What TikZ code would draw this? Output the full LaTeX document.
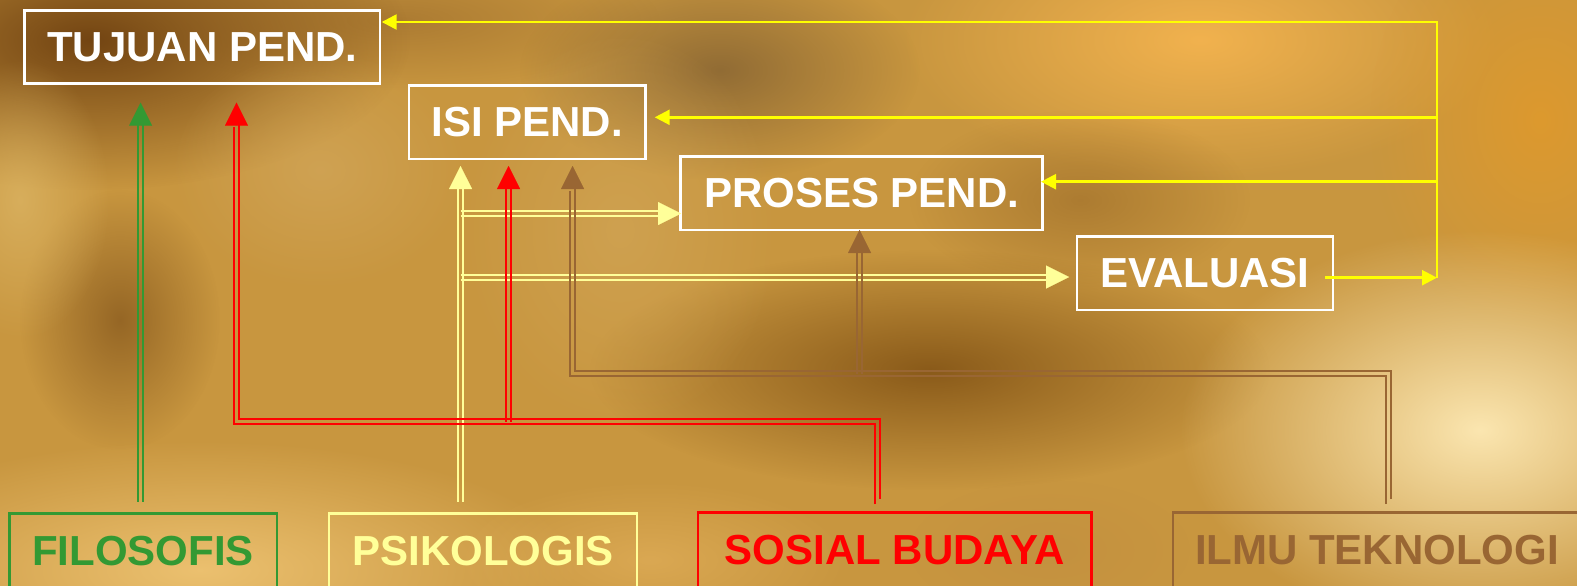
\documentclass[tikz,border=0pt]{standalone}
\usepackage{fontspec}
\setmainfont{Liberation Sans}
\usetikzlibrary{arrows.meta,fadings,calc}
\tikzfading[name=blob, inner color=transparent!0, outer color=transparent!100]
\definecolor{cgreen}{HTML}{339933}
\definecolor{cly}{HTML}{FFFF99}
\definecolor{cred}{HTML}{FF0000}
\definecolor{cbrown}{HTML}{996633}
\definecolor{cyel}{HTML}{FFFF00}
\definecolor{bgbase}{HTML}{C8963F}
\newcommand\myblob[5]{\definecolor{blobc}{HTML}{#4}\fill[color=blobc, opacity=#5, path fading=blob] (#1) ellipse [x radius=#2, y radius=#3];}
% double line: #1 style, #2 path, #3 canvas shift x, #4 canvas shift y
\newcommand\dblgen[4]{%
  \begin{scope}[transform canvas={shift={(#3,#4)}}]\draw[#1] #2;\end{scope}%
  \begin{scope}[transform canvas={shift={(-#3,-#4)}}]\draw[#1] #2;\end{scope}}
\newcommand\dblpath[2]{\dblgen{#1}{#2}{2.5pt}{2.5pt}}
\newcommand\dblv[2]{\dblgen{#1}{#2}{2.5pt}{0pt}}
\newcommand\dblh[2]{\dblgen{#1}{#2}{0pt}{2.5pt}}
\newcommand\dtip[3]{\draw[#1, line width=0.01pt, -{Triangle[width=23pt,length=23pt]}] (#2) -- (#3);}
\begin{document}
\begin{tikzpicture}[x=1pt,y=-1pt,
  lbl/.style={font=\fontsize{42}{48}\selectfont\bfseries, inner sep=0pt, line width=2.5pt},
  topbox/.style={lbl, draw=white, text=white, minimum height=73.3pt},
  botbox/.style={lbl, draw=#1, text=#1, minimum height=75pt},
  dl/.style={draw=#1, line width=2pt},
  yline/.style={draw=cyel, line width=2.5pt},
  yarr/.style={yline, -{Triangle[width=15pt,length=15pt]}}]
\useasboundingbox (0,0) rectangle (1577,586);
% background
\begin{scope}
\clip (0,0) rectangle (1577,586);
\fill[bgbase] (0,0) rectangle (1577,586);
\myblob{400,20}{260}{70}{9A6A2A}{0.6}
\myblob{90,40}{320}{150}{6E4010}{0.95}
\myblob{720,70}{200}{110}{7A5A30}{0.7}
\myblob{1200,40}{300}{140}{F6B550}{0.9}
\myblob{1540,120}{170}{220}{E29A2A}{0.8}
\myblob{1080,200}{170}{90}{9A6A28}{0.6}
\myblob{930,370}{340}{120}{7F5013}{0.85}
\myblob{120,320}{100}{130}{80521A}{0.7}
\myblob{20,200}{90}{140}{DEB868}{0.7}
\myblob{320,170}{150}{120}{D4AA60}{0.6}
\myblob{620,230}{160}{200}{D4AA5E}{0.55}
\myblob{1480,430}{300}{200}{FBE6B0}{1}
\myblob{200,570}{380}{130}{F2C878}{0.85}
\myblob{650,560}{200}{80}{E6B460}{0.6}
\myblob{1050,550}{140}{70}{C08C40}{0.5}
\end{scope}
% boxes
\node[topbox, minimum width=355.5pt] (tuj) at (202.25,47) {TUJUAN PEND.};
\node[topbox, minimum width=236.5pt] (isi) at (527.25,122.3) {ISI PEND.};
\node[topbox, minimum width=361.8pt] (pro) at (861.6,193.3) {PROSES PEND.};
\node[topbox, minimum width=256.2pt] (eva) at (1204.9,273.3) {EVALUASI};
\node[botbox=cgreen, minimum width=267.5pt] (fil) at (143,551) {FILOSOFIS};
\node[botbox=cly, minimum width=308pt] (psi) at (483,551) {PSIKOLOGIS};
\node[botbox=cred, minimum width=393.5pt] (sos) at (894.75,550) {SOSIAL BUDAYA};
\node[botbox=cbrown, minimum width=407.7pt] (ilm) at (1377,550) {ILMU TEKNOLOGI};
% coordinates
\coordinate (gB) at (140.6,501.7); \coordinate (gH) at (140.6,124.7); \coordinate (gT) at (140.6,102.7);
\coordinate (rB) at (877,501.7); \coordinate (rC1) at (877,421.5); \coordinate (rC2) at (236.5,421.5);
\coordinate (rH1) at (236.5,124.7); \coordinate (rT1) at (236.5,102.7);
\coordinate (rJ) at (508.5,421.5); \coordinate (rH2) at (508.5,188); \coordinate (rT2) at (508.5,166);
\coordinate (yB) at (460.5,501.7); \coordinate (yH) at (460.5,188); \coordinate (yT) at (460.5,166);
\coordinate (yJ1) at (460.5,213.5); \coordinate (yH1) at (659,213.5); \coordinate (yT1) at (681,213.5);
\coordinate (yJ2) at (460.5,277); \coordinate (yH2) at (1047,277); \coordinate (yT2) at (1069,277);
\coordinate (bB) at (1388.5,501.7); \coordinate (bC1) at (1388.5,373.5); \coordinate (bC2) at (572.5,373.5);
\coordinate (bH1) at (572.5,188); \coordinate (bT1) at (572.5,166);
\coordinate (bJ) at (859.5,373.5); \coordinate (bH2) at (859.5,252); \coordinate (bT2) at (859.5,230);
\coordinate (eS) at (1325,277.7); \coordinate (eE) at (1437,277.7);
\coordinate (vT) at (1437,22); \coordinate (v1) at (1437,117.3); \coordinate (v2) at (1437,181.7);
\coordinate (tT) at (381.7,22); \coordinate (iT) at (654.7,117.3); \coordinate (pT) at (1041,181.7);
% light yellow (psikologis)
\dblv{dl=cly}{(yB) -- (yH)}
\dblh{dl=cly}{(yJ1) -- (yH1)}
\dblh{dl=cly}{(yJ2) -- (yH2)}
\dtip{cly}{yH}{yT}
\dtip{cly}{yH1}{yT1}
\dtip{cly}{yH2}{yT2}
% red (sosial budaya)
\dblpath{dl=cred}{(rB) -- (rC1) -- (rC2) -- (rH1)}
\dblv{dl=cred}{(rJ) -- (rH2)}
\dtip{cred}{rH1}{rT1}
\dtip{cred}{rH2}{rT2}
% brown (ilmu teknologi)
\dblpath{dl=cbrown}{(bB) -- (bC1) -- (bC2) -- (bH1)}
\dblv{dl=cbrown}{(bJ) -- (bH2)}
\dtip{cbrown}{bH1}{bT1}
\dtip{cbrown}{bH2}{bT2}
% green (filosofis)
\dblv{dl=cgreen}{(gB) -- (gH)}
\dtip{cgreen}{gH}{gT}
% yellow feedback
\draw[yarr] (eS) -- (eE);
\draw[yarr] (eE) -- (vT) -- (tT);
\draw[yarr] (v1) -- (iT);
\draw[yarr] (v2) -- (pT);
\end{tikzpicture}
\end{document}
